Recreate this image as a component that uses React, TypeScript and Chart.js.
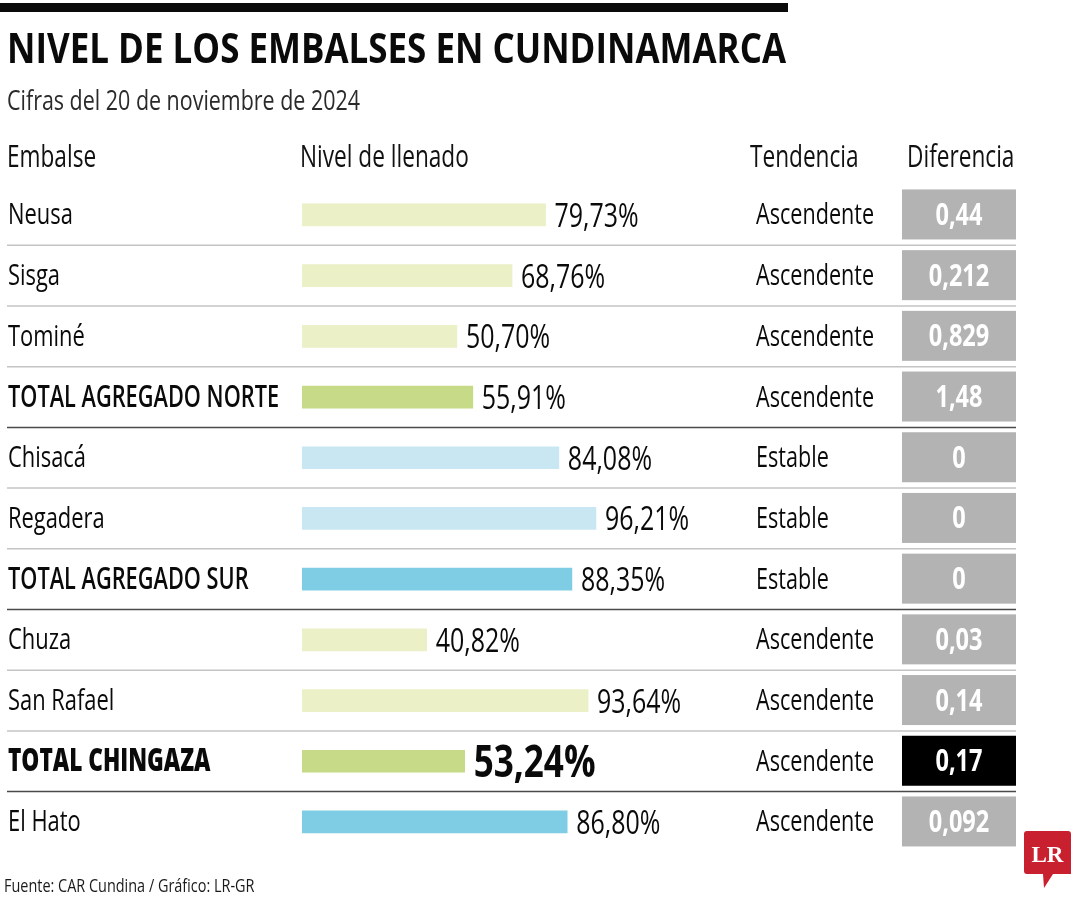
import React, { useEffect, useRef } from "react";
import { Chart, registerables } from "chart.js";

Chart.register(...registerables);

const title = "NIVEL DE LOS EMBALSES EN CUNDINAMARCA";
const subtitle = "Cifras del 20 de noviembre de 2024";
const headers = ["Embalse", "Nivel de llenado", "Tendencia", "Diferencia"];
const source = "Fuente: CAR Cundina / Gráfico: LR-GR";

const reservoirs = [
  "Neusa",
  "Sisga",
  "Tominé",
  "TOTAL AGREGADO NORTE",
  "Chisacá",
  "Regadera",
  "TOTAL AGREGADO SUR",
  "Chuza",
  "San Rafael",
  "TOTAL CHINGAZA",
  "El Hato",
];
const fillLevels = [79.73, 68.76, 50.7, 55.91, 84.08, 96.21, 88.35, 40.82, 93.64, 53.24, 86.8];
const fillLabels = ["79,73%", "68,76%", "50,70%", "55,91%", "84,08%", "96,21%", "88,35%", "40,82%", "93,64%", "53,24%", "86,80%"];
const trends = [
  "Ascendente",
  "Ascendente",
  "Ascendente",
  "Ascendente",
  "Estable",
  "Estable",
  "Estable",
  "Ascendente",
  "Ascendente",
  "Ascendente",
  "Ascendente",
];
const differences = ["0,44", "0,212", "0,829", "1,48", "0", "0", "0", "0,03", "0,14", "0,17", "0,092"];
// row kind: "item" | "total" | "grand"
const rowKinds = ["item", "item", "item", "total", "item", "item", "total", "item", "item", "grand", "item"];
// bar palette group per row
const rowGroups = ["green", "green", "green", "greenTotal", "blue", "blue", "blueTotal", "green", "green", "greenTotal", "blueTotal"];

const PALETTE: Record<string, string> = {
  green: "#ecf0c6",
  greenTotal: "#c6da88",
  blue: "#c8e7f2",
  blueTotal: "#7fcde4",
};

const FONT = '"Open Sans", "Liberation Sans", Arial, sans-serif';
const SX = 0.78;

function drawText(
  ctx: CanvasRenderingContext2D,
  s: string,
  x: number,
  y: number,
  font: string,
  color: string,
  align: "left" | "center" | "right" = "left",
  sx: number = SX
) {
  ctx.save();
  ctx.font = font;
  ctx.fillStyle = color;
  ctx.textBaseline = "alphabetic";
  ctx.textAlign = "left";
  const w = ctx.measureText(s).width * sx;
  const ox = align === "center" ? x - w / 2 : align === "right" ? x - w : x;
  ctx.translate(ox, y);
  ctx.scale(sx, 1);
  ctx.fillText(s, 0, 0);
  ctx.restore();
}

const tablePlugin = {
  id: "tablePlugin",
  beforeDraw(chart: any) {
    const ctx = chart.ctx as CanvasRenderingContext2D;
    ctx.save();
    ctx.fillStyle = "#ffffff";
    ctx.fillRect(0, 0, chart.width, chart.height);
    ctx.restore();
  },
  afterDraw(chart: any) {
    const ctx = chart.ctx as CanvasRenderingContext2D;
    const yScale = chart.scales.y;
    const meta = chart.getDatasetMeta(0);
    const rowH = yScale.getPixelForValue(1) - yScale.getPixelForValue(0);

    // top rule
    ctx.fillStyle = "#0a0a0a";
    ctx.fillRect(0, 3, 788, 9);

    // title fitted to width
    ctx.save();
    const tFont = `bold 42px ${FONT}`;
    ctx.font = tFont;
    const tw = ctx.measureText(title).width;
    ctx.restore();
    drawText(ctx, title, 7, 63, tFont, "#0a0a0a", "left", 779 / tw);

    drawText(ctx, subtitle, 7, 110, `27.5px ${FONT}`, "#2a2a2a");

    const hFont = `31px ${FONT}`;
    drawText(ctx, headers[0], 7, 167, hFont, "#111", "left", 0.73);
    drawText(ctx, headers[1], 300, 167, hFont, "#111", "left", 0.73);
    drawText(ctx, headers[2], 750, 167, hFont, "#111", "left", 0.73);
    drawText(ctx, headers[3], 907, 167, hFont, "#111", "left", 0.73);

    reservoirs.forEach((name, i) => {
      const cy = yScale.getPixelForValue(i);
      const kind = rowKinds[i];
      // separator below row (except last)
      if (i < reservoirs.length - 1) {
        const ly = cy + rowH / 2;
        ctx.save();
        ctx.strokeStyle = kind === "item" ? "#c4c4c4" : "#4a4a4a";
        ctx.lineWidth = 1.5;
        ctx.beginPath();
        ctx.moveTo(7, ly);
        ctx.lineTo(1016, ly);
        ctx.stroke();
        ctx.restore();
      }
      // name
      const nameFont =
        kind === "grand" ? `800 31px ${FONT}` : kind === "total" ? `600 30px ${FONT}` : `30px ${FONT}`;
      drawText(ctx, name, 8, cy + 9.5, nameFont, "#0a0a0a", "left", kind === "total" ? 0.725 : 0.73);

      // value label
      const bar = meta.data[i];
      const vFont = kind === "grand" ? `bold 45px ${FONT}` : `32px ${FONT}`;
      drawText(ctx, fillLabels[i], bar.x + 9, cy + (kind === "grand" ? 16 : 12), vFont, "#0a0a0a");

      // trend
      drawText(ctx, trends[i], 756, cy + 9.5, `30px ${FONT}`, "#0a0a0a", "left", 0.72);

      // difference box
      ctx.save();
      ctx.fillStyle = kind === "grand" ? "#000000" : "#b3b3b3";
      ctx.fillRect(902, cy - 25.5, 114, 50);
      ctx.restore();
      drawText(ctx, differences[i], 959, cy + 10, `bold 31px ${FONT}`, "#ffffff", "center", 0.76);
    });

    // footer
    drawText(ctx, source, 4, 892, `19px ${FONT}`, "#1a1a1a", "left", 0.76);

    // LR logo
    ctx.save();
    ctx.fillStyle = "#c8202e";
    ctx.beginPath();
    ctx.moveTo(1027, 831);
    ctx.lineTo(1068, 831);
    ctx.quadraticCurveTo(1071, 831, 1071, 834);
    ctx.lineTo(1071, 874);
    ctx.lineTo(1053, 874);
    ctx.lineTo(1044, 888);
    ctx.lineTo(1043, 874);
    ctx.lineTo(1027, 874);
    ctx.quadraticCurveTo(1024, 874, 1024, 871);
    ctx.lineTo(1024, 834);
    ctx.quadraticCurveTo(1024, 831, 1027, 831);
    ctx.closePath();
    ctx.fill();
    ctx.fillStyle = "#ffffff";
    ctx.font = 'bold 23px "Liberation Serif", "DejaVu Serif", serif';
    ctx.textAlign = "center";
    ctx.textBaseline = "alphabetic";
    ctx.fillText("LR", 1047.5, 862);
    ctx.restore();
  },
};

export default function App() {
  const canvasRef = useRef<HTMLCanvasElement | null>(null);

  useEffect(() => {
    if (!canvasRef.current) return;
    const chart = new Chart(canvasRef.current, {
      type: "bar",
      data: {
        labels: reservoirs,
        datasets: [
          {
            data: fillLevels,
            backgroundColor: rowGroups.map((g) => PALETTE[g]),
            borderWidth: 0,
            barThickness: 22,
          },
        ],
      },
      options: {
        indexAxis: "y",
        responsive: false,
        animation: false,
        devicePixelRatio: 1,
        layout: {
          padding: { left: 302, right: 1080 - 607.5, top: 184.6, bottom: 900 - 852.3 },
        },
        scales: {
          x: { min: 0, max: 100, display: false },
          y: { display: false },
        },
        plugins: {
          legend: { display: false },
          tooltip: { enabled: false },
        },
      },
      plugins: [tablePlugin],
    });
    return () => chart.destroy();
  }, []);

  return (
    <div style={{ position: "absolute", left: 0, top: 0, width: 1080, height: 900, background: "#fff" }}>
      <canvas ref={canvasRef} width={1080} height={900} style={{ width: 1080, height: 900, display: "block" }} />
    </div>
  );
}
